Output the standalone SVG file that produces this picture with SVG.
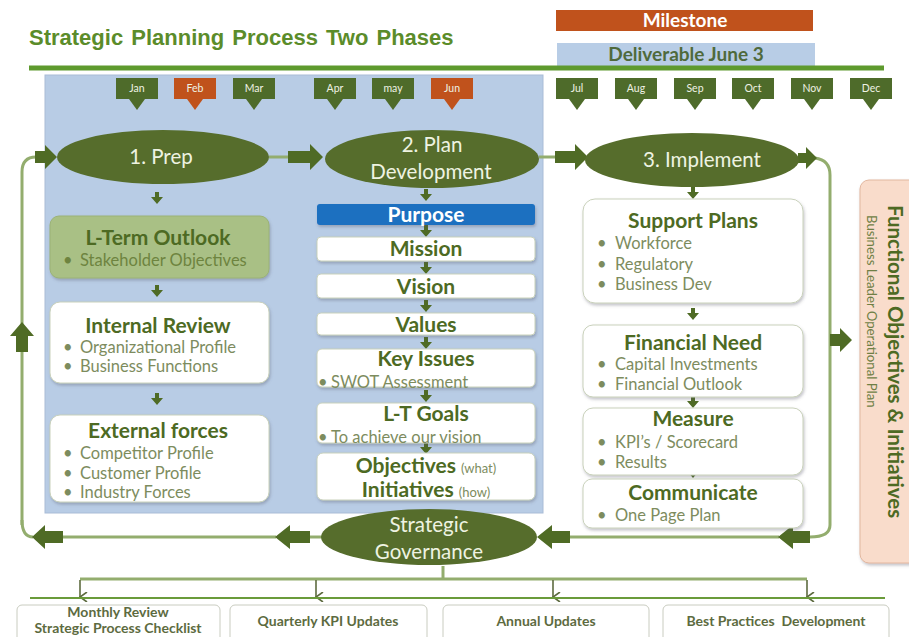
<svg xmlns="http://www.w3.org/2000/svg" width="909" height="637" viewBox="0 0 909 637">
  <style>
    .title { font-family: "Liberation Sans", Arial, sans-serif; font-weight: bold; font-size: 22px; fill: #5b8c2a; word-spacing: 2px; }
    .tag { font-family: Lato, "Liberation Sans", sans-serif; font-size: 10.5px; fill: #eef2e4; text-anchor: middle; }
    .ell { fill: #566d2c; }
    .ellt { font-family: Lato, "Liberation Sans", sans-serif; font-size: 20.5px; fill: #eef3e2; text-anchor: middle; }
    .box { fill: #ffffff; stroke: #c9d1bb; stroke-width: 1; filter: url(#shadow); }
    .h { font-family: Lato, "Liberation Sans", sans-serif; font-weight: bold; font-size: 21px; fill: #4d6a23; text-anchor: middle; }
    .hw { fill: #ffffff; }
    .b { font-family: Lato, "Liberation Sans", sans-serif; font-size: 16.5px; fill: #7d8c5e; }
    .bg { fill: #6e843f; }
    .small { font-family: Lato, "Liberation Sans", sans-serif; font-size: 13px; fill: #7d8c5e; font-weight: normal; }
    .conn { fill: none; stroke: #93ad6e; stroke-width: 3; stroke-linejoin: round; }
    .blk { fill: #4f6b25; }
    .bot { fill: #ffffff; stroke: #c9ccc0; stroke-width: 1; }
    .bt { font-family: Lato, "Liberation Sans", sans-serif; font-weight: bold; font-size: 14px; fill: #5d6b3f; text-anchor: middle; }
  </style>
  <defs>
    <filter id="shadow" x="-10%" y="-10%" width="120%" height="130%">
      <feDropShadow dx="1" dy="2" stdDeviation="1.5" flood-color="#556" flood-opacity="0.35"/>
    </filter>
    <!-- small down arrow used between stacked boxes -->
    <path id="dn" d="M-2,-6 h4 v5 h4 l-6,7 l-6,-7 h4 z"/>
    <!-- month tag pointer -->
    <path id="ptr" d="M-8,0 h16 l-8,11 z"/>
    <marker id="thin" viewBox="0 0 10 10" refX="5" refY="9" markerWidth="10" markerHeight="10" markerUnits="userSpaceOnUse" orient="auto-start-reverse">
      <path d="M0,2 L5,9 L10,2" fill="none" stroke="#5d6b3f" stroke-width="1.6"/>
    </marker>
  </defs>

  <!-- heading -->
  <text class="title" x="29" y="45">Strategic Planning Process Two Phases</text>

  <!-- legend -->
  <g id="legend">
    <rect x="556" y="10" width="257" height="21" fill="#c0521c"/>
    <text x="685" y="27" font-family="Lato, 'Liberation Sans', sans-serif" font-weight="bold" font-size="19" fill="#ffffff" text-anchor="middle">Milestone</text>
    <rect x="557" y="43" width="258" height="23" fill="#b8cde6"/>
    <text x="686" y="61" font-family="Lato, 'Liberation Sans', sans-serif" font-weight="bold" font-size="19" fill="#4f6a3c" text-anchor="middle">Deliverable June 3</text>
  </g>

  <!-- phase one panel -->
  <rect id="panel" x="45" y="75" width="498" height="438" fill="#b8cce5" stroke="#a9bcd6" stroke-width="1"/>
  <line x1="29" y1="68" x2="884" y2="68" stroke="#5e9a2e" stroke-width="5"/>

  <!-- month tags -->
  <g id="months">
    <g fill="#4e6b2a">
      <rect x="116" y="78" width="42" height="21"/><use href="#ptr" x="137" y="99"/>
      <rect x="233" y="78" width="42" height="21"/><use href="#ptr" x="254" y="99"/>
      <rect x="314" y="78" width="42" height="21"/><use href="#ptr" x="335" y="99"/>
      <rect x="372" y="78" width="42" height="21"/><use href="#ptr" x="393" y="99"/>
      <rect x="556" y="78" width="42" height="21"/><use href="#ptr" x="577" y="99"/>
      <rect x="615" y="78" width="42" height="21"/><use href="#ptr" x="636" y="99"/>
      <rect x="674" y="78" width="42" height="21"/><use href="#ptr" x="695" y="99"/>
      <rect x="732" y="78" width="42" height="21"/><use href="#ptr" x="753" y="99"/>
      <rect x="791" y="78" width="42" height="21"/><use href="#ptr" x="812" y="99"/>
      <rect x="850" y="78" width="42" height="21"/><use href="#ptr" x="871" y="99"/>
    </g>
    <g fill="#c0521c">
      <rect x="174" y="78" width="42" height="21"/><use href="#ptr" x="195" y="99"/>
      <rect x="431" y="78" width="42" height="21"/><use href="#ptr" x="452" y="99"/>
    </g>
    <text class="tag" x="137" y="92">Jan</text>
    <text class="tag" x="195" y="92">Feb</text>
    <text class="tag" x="254" y="92">Mar</text>
    <text class="tag" x="335" y="92">Apr</text>
    <text class="tag" x="393" y="92">may</text>
    <text class="tag" x="452" y="92">Jun</text>
    <text class="tag" x="577" y="92">Jul</text>
    <text class="tag" x="636" y="92">Aug</text>
    <text class="tag" x="695" y="92">Sep</text>
    <text class="tag" x="753" y="92">Oct</text>
    <text class="tag" x="812" y="92">Nov</text>
    <text class="tag" x="871" y="92">Dec</text>
  </g>

  <!-- connectors -->
  <g id="connectors">
    <path class="conn" d="M269,157 H290"/>
    <path class="conn" d="M539,157 H556"/>
    <path class="conn" d="M22,525 V172 Q22,157 36,157"/>
    <path class="conn" d="M815,158 Q830,160 830,175 V525 Q830,537 810,537"/>
    <path class="conn" d="M63,537 H276"/>
    <path class="conn" d="M310,537 H322"/>
    <path class="conn" d="M570,537 H779"/>
    <path class="conn" d="M22,520 Q22,537 33,537"/>
    <path class="conn" d="M443,566 V579"/>
    <path class="conn" d="M80,579 H807" stroke="#a9b98a"/>
    <!-- block arrows -->
    <path class="blk" d="M288,151 H310 V144 L323,157 L310,170 V163 H288 Z"/>
    <path class="blk" d="M555,151 H575 V144 L588,157 L575,170 V163 H555 Z"/>
    <path class="blk" d="M798,153 H806 V147 L817,158 L806,169 V163 H798 Z"/>
    <path class="blk" d="M35,151 H45 V145 L57,157 L45,169 V163 H35 Z"/>
    <path class="blk" d="M22,322 L34,336 H28 V352 H16 V336 H10 Z"/>
    <path class="blk" d="M32,537 L45,525 V531 H63 V543 H45 V549 Z"/>
    <path class="blk" d="M275,537 L290,525 V531 H310 V543 H290 V549 Z"/>
    <path class="blk" d="M537,537 L552,525 V531 H570 V543 H552 V549 Z"/>
    <path class="blk" d="M778,537 L793,525 V531 H810 V543 H793 V549 Z"/>
    <path class="blk" d="M830,334 H840 V328 L852,340 L840,352 V346 H830 Z"/>
    <!-- small step arrows -->
    <g class="blk">
      <use href="#dn" x="157" y="198"/>
      <use href="#dn" x="157" y="291"/>
      <use href="#dn" x="157" y="399"/>
      <use href="#dn" x="426" y="195"/>
      <use href="#dn" x="426" y="231"/>
      <use href="#dn" x="426" y="268"/>
      <use href="#dn" x="426" y="306"/>
      <use href="#dn" x="426" y="343"/>
      <use href="#dn" x="426" y="396"/>
      <use href="#dn" x="426" y="448"/>
      <use href="#dn" x="693" y="193"/>
      <use href="#dn" x="693" y="314"/>
      <use href="#dn" x="693" y="402"/>
      <use href="#dn" x="693" y="472"/>
    </g>
    <!-- review cadence drops -->
    <g stroke="#5d6b3f" stroke-width="1.6" marker-end="url(#thin)">
      <line x1="80" y1="580" x2="80" y2="597"/>
      <line x1="316" y1="580" x2="316" y2="597"/>
      <line x1="553" y1="580" x2="553" y2="597"/>
      <line x1="807" y1="580" x2="807" y2="597"/>
    </g>
    <line x1="30" y1="598" x2="885" y2="598" stroke="#6a9b3a" stroke-width="2"/>
  </g>

  <!-- phase ellipses -->
  <g id="prep">
    <ellipse class="ell" cx="163" cy="157" rx="106" ry="27"/>
    <text class="ellt" x="161" y="164">1. Prep</text>
  </g>
  <g id="plan-development">
    <ellipse class="ell" cx="432" cy="159" rx="107" ry="29"/>
    <text class="ellt" x="432" y="152">2. Plan</text>
    <text class="ellt" x="431" y="179">Development</text>
  </g>
  <g id="implement">
    <ellipse class="ell" cx="692" cy="160" rx="107" ry="27"/>
    <text class="ellt" x="702" y="167">3. Implement</text>
  </g>
  <g id="governance">
    <ellipse class="ell" cx="429" cy="537" rx="108" ry="28"/>
    <text class="ellt" x="429" y="532">Strategic</text>
    <text class="ellt" x="429" y="559">Governance</text>
  </g>

  <!-- prep column -->
  <g id="l-term-outlook">
    <rect x="50" y="216" width="219" height="62" rx="9" fill="#a9c085" stroke="#9bb276" filter="url(#shadow)"/>
    <text class="h" x="158" y="245">L-Term Outlook</text>
    <text class="b bg" x="63" y="266">•</text>
    <text class="b bg" x="80" y="266">Stakeholder Objectives</text>
  </g>
  <g id="internal-review">
    <rect class="box" x="50" y="302" width="219" height="81" rx="10"/>
    <text class="h" x="158" y="333">Internal Review</text>
    <text class="b" x="63" y="353">•</text><text class="b" x="80" y="353">Organizational Profile</text>
    <text class="b" x="63" y="372">•</text><text class="b" x="80" y="372">Business Functions</text>
  </g>
  <g id="external-forces">
    <rect class="box" x="50" y="415" width="219" height="87" rx="10"/>
    <text class="h" x="158" y="438">External forces</text>
    <text class="b" x="63" y="459">•</text><text class="b" x="80" y="459">Competitor Profile</text>
    <text class="b" x="63" y="479">•</text><text class="b" x="80" y="479">Customer Profile</text>
    <text class="b" x="63" y="498">•</text><text class="b" x="80" y="498">Industry Forces</text>
  </g>

  <!-- plan development column -->
  <g id="purpose">
    <rect x="317" y="204" width="218" height="21" rx="3" fill="#1a6fc0" filter="url(#shadow)"/>
    <text class="h hw" x="426" y="222">Purpose</text>
  </g>
  <g id="mission">
    <rect class="box" x="317" y="237" width="218" height="24" rx="4"/>
    <text class="h" x="426" y="256">Mission</text>
  </g>
  <g id="vision">
    <rect class="box" x="317" y="274" width="218" height="24" rx="4"/>
    <text class="h" x="426" y="294">Vision</text>
  </g>
  <g id="values">
    <rect class="box" x="317" y="313" width="218" height="22" rx="4"/>
    <text class="h" x="426" y="332">Values</text>
  </g>
  <g id="key-issues">
    <rect class="box" x="317" y="349" width="218" height="38" rx="5"/>
    <text class="h" x="426" y="366">Key Issues</text>
    <text class="b" x="318" y="388">•</text><text class="b" x="331" y="388">SWOT Assessment</text>
  </g>
  <g id="lt-goals">
    <rect class="box" x="317" y="403" width="218" height="40" rx="5"/>
    <text class="h" x="426" y="421">L-T Goals</text>
    <text class="b" x="318" y="443">•</text><text class="b" x="331" y="443">To achieve our vision</text>
  </g>
  <g id="objectives-initiatives">
    <rect class="box" x="317" y="453" width="218" height="47" rx="6"/>
    <text class="h" x="426" y="473">Objectives <tspan class="small">(what)</tspan></text>
    <text class="h" x="426" y="497">Initiatives <tspan class="small">(how)</tspan></text>
  </g>

  <!-- implement column -->
  <g id="support-plans">
    <rect class="box" x="583" y="199" width="220" height="104" rx="12"/>
    <text class="h" x="693" y="228">Support Plans</text>
    <text class="b" x="597" y="249">•</text><text class="b" x="615" y="249">Workforce</text>
    <text class="b" x="597" y="270">•</text><text class="b" x="615" y="270">Regulatory</text>
    <text class="b" x="597" y="290">•</text><text class="b" x="615" y="290">Business Dev</text>
  </g>
  <g id="financial-need">
    <rect class="box" x="583" y="325" width="220" height="72" rx="10"/>
    <text class="h" x="693" y="350">Financial Need</text>
    <text class="b" x="597" y="370">•</text><text class="b" x="615" y="370">Capital Investments</text>
    <text class="b" x="597" y="390">•</text><text class="b" x="615" y="390">Financial Outlook</text>
  </g>
  <g id="measure">
    <rect class="box" x="583" y="408" width="220" height="67" rx="10"/>
    <text class="h" x="693" y="426">Measure</text>
    <text class="b" x="597" y="448">•</text><text class="b" x="615" y="448">KPI’s / Scorecard</text>
    <text class="b" x="597" y="468">•</text><text class="b" x="615" y="468">Results</text>
  </g>
  <g id="communicate">
    <rect class="box" x="583" y="479" width="220" height="49" rx="9"/>
    <text class="h" x="693" y="500">Communicate</text>
    <text class="b" x="597" y="521">•</text><text class="b" x="615" y="521">One Page Plan</text>
  </g>
  <g id="functional-objectives">
    <rect x="860" y="180" width="60" height="383" rx="9" fill="#f9dccb" stroke="#e2b79f" filter="url(#shadow)"/>
    <text transform="translate(888,205) rotate(90)" font-family="Lato, 'Liberation Sans', sans-serif" font-weight="bold" font-size="20.5" fill="#4d6a23">Functional Objectives &amp; Initiatives</text>
    <text transform="translate(867,215) rotate(90)" font-family="Lato, 'Liberation Sans', sans-serif" font-size="13.2" fill="#6f7f45">Business Leader Operational Plan</text>
  </g>

  <!-- review cadence -->
  <g id="monthly-review">
    <rect class="bot" x="17" y="605" width="203" height="40" rx="5"/>
    <text class="bt" x="118" y="617">Monthly Review</text>
    <text class="bt" x="118" y="633">Strategic Process Checklist</text>
  </g>
  <g id="quarterly-kpi">
    <rect class="bot" x="230" y="605" width="197" height="40" rx="5"/>
    <text class="bt" x="328" y="626">Quarterly KPI Updates</text>
  </g>
  <g id="annual-updates">
    <rect class="bot" x="443" y="605" width="206" height="40" rx="5"/>
    <text class="bt" x="546" y="626">Annual Updates</text>
  </g>
  <g id="best-practices">
    <rect class="bot" x="663" y="605" width="226" height="40" rx="5"/>
    <text class="bt" x="776" y="626" xml:space="preserve">Best Practices  Development</text>
  </g>
</svg>
